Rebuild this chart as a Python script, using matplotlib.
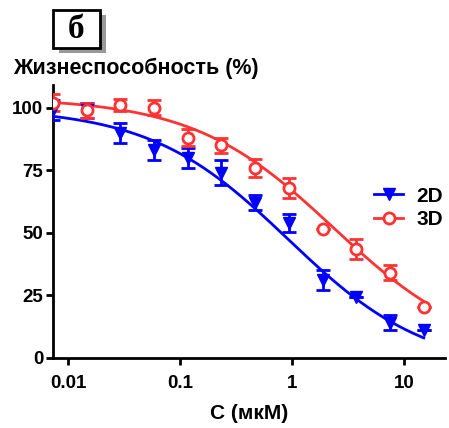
import numpy as np
import matplotlib
matplotlib.use('Agg')
import matplotlib.pyplot as plt
from matplotlib.patches import Rectangle

plt.rcParams['font.family'] = ['Liberation Sans', 'DejaVu Sans']
plt.rcParams['font.weight'] = 'bold'

# concentrations (мкМ), twofold dilution series
conc = [0.00732, 0.01465, 0.0293, 0.0586, 0.117, 0.234,
        0.469, 0.9375, 1.875, 3.75, 7.5, 15.0]

# 2D culture
v2d = [99, 99, 90, 83, 80, 74, 62, 54, 31, 24.5, 14, 11]
e2d = [4, 3, 4, 4, 4, 5, 3, 3.5, 4, 0, 3, 0]

# 3D culture
v3d = [102, 99, 101, 100, 88, 85, 76, 68, 51.5, 43.5, 34, 20.5]
e3d = [3.5, 3, 2.5, 3, 3.5, 3, 3.5, 4, 0, 4, 3, 0]

# fitted dose-response parameters (top, bottom, IC50, hill)
fit2d = (100, -5, 0.92, 0.7)
fit3d = (104, 0, 2.35, 0.69)

blue = '#0000FF'
red = '#FF3333'


def logistic(x, p):
    top, bottom, ic50, h = p
    return bottom + (top - bottom) / (1 + (x / ic50) ** h)


fig = plt.figure(figsize=(4.49, 4.28), dpi=100)
ax = fig.add_axes([0.118, 0.1636, 0.991 - 0.118, 0.801 - 0.1636])

xs = np.logspace(np.log10(conc[0]), np.log10(conc[-1]), 200)
ax.plot(xs, logistic(xs, fit2d), color=blue, lw=2, zorder=2)
ax.plot(xs, logistic(xs, fit3d), color=red, lw=2, zorder=2)

ax.errorbar(conc, v2d, yerr=e2d, fmt='v', color=blue, ms=8, capsize=5,
            capthick=2, elinewidth=2, zorder=3)
ax.errorbar(conc, v3d, yerr=e3d, fmt='o', color=red, mfc='white', mec=red,
            mew=2, ms=8, capsize=5, capthick=2, elinewidth=2, zorder=3)

# legend handles (line with marker)
h2, = ax.plot([], [], color=blue, lw=2, marker='v', ms=8)
h3, = ax.plot([], [], color=red, lw=2, marker='o', ms=8, mfc='white', mew=2)
ax.legend([h2, h3], ['2D', '3D'], loc='center left',
          bbox_to_anchor=(0.819, 0.55), frameon=False, handlelength=1.4,
          handletextpad=0.65, labelspacing=0.22, borderpad=0,
          borderaxespad=0, prop={'size': 15, 'weight': 'bold'})

ax.set_xscale('log')
ax.set_xlim(0.00734, 23.2)
ax.set_ylim(0, 109)
ax.set_yticks([0, 25, 50, 75, 100])
ax.set_xticks([0.01, 0.1, 1, 10])
ax.set_xticklabels(['0.01', '0.1', '1', '10'])
ax.minorticks_off()

for s in ['top', 'right']:
    ax.spines[s].set_visible(False)
for s in ['left', 'bottom']:
    ax.spines[s].set_linewidth(2)
ax.tick_params(width=2, length=5, labelsize=13.5, pad=2)
for lab in ax.get_xticklabels() + ax.get_yticklabels():
    lab.set_fontweight('bold')
ax.tick_params(axis='x', pad=7)

ax.set_xlabel('C (мкМ)', fontsize=15, fontweight='bold', labelpad=9)
fig.text(0.03, 0.841, 'Жизнеспособность (%)', fontsize=15.5,
         fontweight='bold', va='center', ha='left')

# panel label with shadow
W, H = 449, 428
fig.patches.append(Rectangle((59 / W, 1 - 53 / H), 47 / W, 38 / H,
                             transform=fig.transFigure, facecolor='#999999',
                             edgecolor='none'))
fig.patches.append(Rectangle((53 / W, 1 - 48 / H), 47 / W, 38 / H,
                             transform=fig.transFigure, facecolor='white',
                             edgecolor='black', lw=2))
fig.text(76.5 / W, 1 - 30 / H, 'б', fontsize=24, fontweight='bold',
         family='Liberation Serif', ha='center', va='center')

fig.savefig('out.png', dpi=100)
